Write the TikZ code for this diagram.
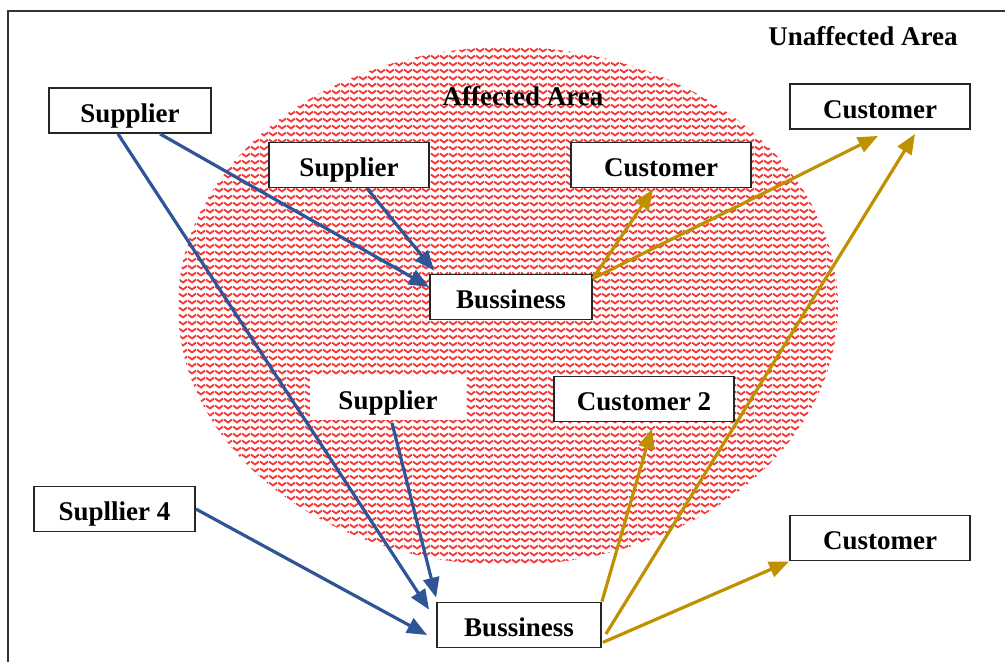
\documentclass[tikz,border=0pt]{standalone}
\usepackage{fontspec}
\setmainfont{Liberation Serif}
\usetikzlibrary{arrows.meta,calc,patterns}
\definecolor{supblue}{RGB}{47,85,151}
\definecolor{cusgold}{RGB}{191,144,0}
\definecolor{zigred}{RGB}{245,60,60}
% wavy hatching for the affected area
\pgfdeclarepatternformonly{zigwave}{\pgfqpoint{0pt}{0pt}}{\pgfqpoint{4.25pt}{3.25pt}}{\pgfqpoint{4.25pt}{3.25pt}}{
	\pgfsetlinewidth{1pt}
	\pgfpathmoveto{\pgfqpoint{0pt}{2.4pt}}
	\pgfpathcurveto{\pgfqpoint{0.8pt}{2.4pt}}{\pgfqpoint{1.325pt}{0.85pt}}{\pgfqpoint{2.125pt}{0.85pt}}
	\pgfpathcurveto{\pgfqpoint{2.925pt}{0.85pt}}{\pgfqpoint{3.45pt}{2.4pt}}{\pgfqpoint{4.25pt}{2.4pt}}
	\pgfusepath{stroke}
}

\begin{document}
\begin{tikzpicture}[x=0.5pt,y=0.5pt,
		box/.style={draw=black!85,line width=0.9pt,fill=white,inner sep=0pt,
			minimum height=22.5pt,text height=17pt,text depth=5.5pt,
			font=\fontsize{13.5}{15}\selectfont\bfseries},
		lbl/.style={inner sep=0pt,anchor=base,font=\fontsize{13.5}{15}\selectfont\bfseries},
		supply/.style={color=supblue,line width=1.6pt,-{Triangle[length=10pt,width=8pt]}},
		demand/.style={color=cusgold,line width=1.6pt,-{Triangle[length=10pt,width=8pt]}}]
		\useasboundingbox (0,0) rectangle (1005,661);
		% affected area
		\fill[pattern=zigwave,pattern color=zigred] (508,355) ellipse [x radius=330, y radius=259];
		\draw[black!80,line width=1pt] (8,-10) rectangle (1015,650);
		\node[lbl](aff) at (523,556) {Affected Area};
		\node[lbl](unaff) at (863,616) {Unaffected Area};
		% nodes
		\node[box,minimum width=81pt](sup1) at (130,550.5) {Supplier};
		\node[box,minimum width=80pt](sup2) at (349,496) {Supplier};
		\node[box,minimum width=90pt](cusa) at (661,496) {Customer};
		\node[box,minimum width=90pt](cusb) at (880,554.5) {Customer};
		\node[box,minimum width=81pt](bus1) at (511,364) {Bussiness};
		\node[box,draw=none,minimum width=78pt](sup3) at (388,263.5) {Supplier};
		\node[box,minimum width=90pt](cus2) at (644,262) {Customer 2};
		\node[box,minimum width=80.5pt](sup4) at (114.5,152) {Supllier 4};
		\node[box,minimum width=90pt](cusc) at (880,123) {Customer};
		\node[box,minimum width=82pt](bus2) at (519,36) {Bussiness};
		% suppliers to business
		\path[supply]
		($(sup1.south)+(30,0)$) edge ($(bus1.west)+(0,10)$)
		($(sup1.south)+(-12,0)$) edge ($(bus2.north west)+(-7,-8)$)
		($(sup2.south)+(18,0)$) edge ($(bus1.north west)+(5,3)$)
		($(sup3.south)+(4,-2)$) edge ($(bus2.north west)+(0,4)$)
		(sup4.east) edge ($(bus2.west)+(-9,-10)$);
		% business to customers
		\path[demand]
		($(bus1.north east)+(0,-5)$) edge ($(cusa.south)+(-8,-1)$)
		($(bus1.north east)+(0,-5)$) edge ($(cusb.south)+(-2,-6)$)
		($(bus2.east)+(4,-9)$) edge ($(cusb.south)+(35,-4)$)
		(bus2.north east) edge ($(cus2.south)+(8,-6)$)
		($(bus2.south east)+(1,6)$) edge (cusc.south west);
\end{tikzpicture}
\end{document}
